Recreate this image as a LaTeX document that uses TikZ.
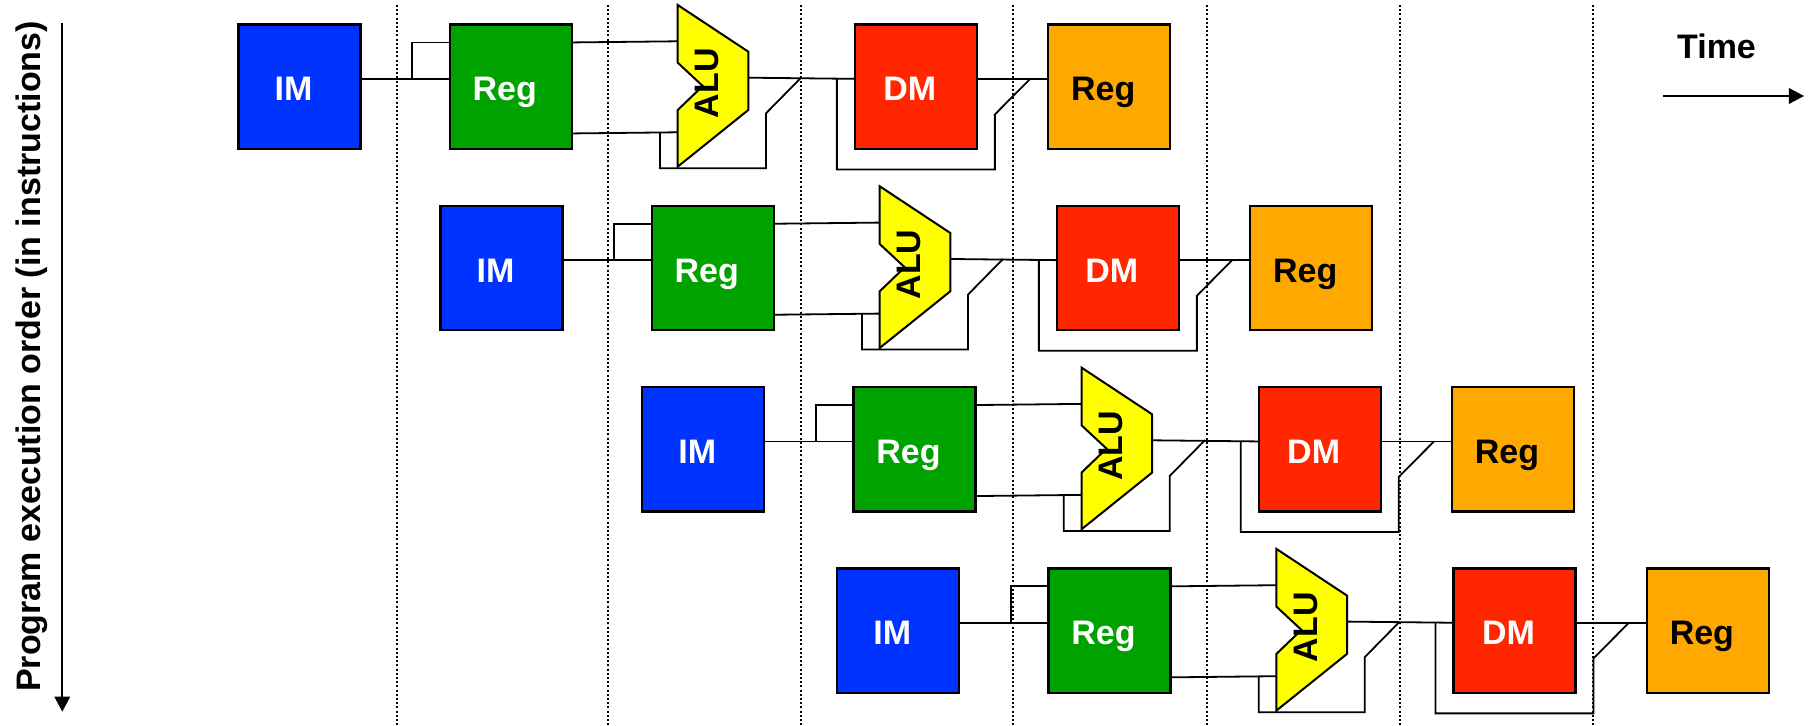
\documentclass[tikz,border=0pt]{standalone}
\usepackage{fontspec}
\setmainfont{Liberation Sans}
\usetikzlibrary{arrows.meta,calc}
\definecolor{imblue}{RGB}{0,51,255}
\definecolor{rggreen}{RGB}{0,162,0}
\definecolor{dmred}{RGB}{255,38,0}
\definecolor{wborange}{RGB}{255,168,0}
\definecolor{aluyellow}{RGB}{255,255,0}
\begin{document}
\begin{tikzpicture}[x=0.5pt,y=-0.5pt,
  box/.style={draw=black,line width=1.15pt,minimum width=61pt,minimum height=62.2pt,inner sep=0pt,outer sep=0pt},
  lbl/.style={font=\fontsize{17}{20}\selectfont\bfseries,inner sep=0pt,anchor=base},
  alutxt/.style={font=\fontsize{17}{20}\selectfont\bfseries,inner sep=0pt,rotate=90,anchor=center,text height=0.72em,text depth=0pt},
  wire/.style={line width=0.9pt},
  dotline/.style={line width=1pt,dash pattern=on 1pt off 1.1pt},
  arr/.style={line width=1pt,-{Triangle[length=7.6pt,width=7.8pt]}},
  alubody/.style={draw=black,line width=1pt,fill=aluyellow,line join=miter}]
\useasboundingbox (0,0) rectangle (1813,726);
% time columns
\foreach \xx in {396.7,607.5,801,1012.5,1206.5,1400,1592.5}
  \draw[dotline] (\xx,5) -- (\xx,726);
% axes
\coordinate (ps) at (62.3,23.3);
\coordinate (pe) at (62.3,711.7);
\draw[arr] (ps) -- (pe);
\node[lbl,rotate=90] (prog) at (40.7,356.5) {Program execution order (in instructions)};
\node[lbl] (time) at (1716.5,58.3) {Time};
\coordinate (ts) at (1663.3,96);
\coordinate (te) at (1804,96);
\draw[arr] (ts) -- (te);
% pipeline rows
\foreach \k/\dx in {0/0,1/202,2/403.8,3/598.7}{
\begin{scope}[shift={(\dx,181.3*\k)}]
  \coordinate (ai\k) at (677.7,41.3);
  \coordinate (bi\k) at (677.7,132.3);
  \coordinate (ao\k) at (748.3,77.7);
  \node[box,fill=imblue] (im\k) at (299.5,86.65) {};
  \node[box,fill=rggreen] (rg\k) at (510.7,86.65) {};
  \node[box,fill=dmred] (dm\k) at (915.85,86.65) {};
  \node[box,fill=wborange] (wb\k) at (1109.15,86.65) {};
  % wires
  \draw[wire] ($(im\k.north east)+(0,54.4)$) -- ($(rg\k.north west)+(0,54.4)$);
  \draw[wire] ($(im\k.north east)+(51.6,54.4)$) |- ($(rg\k.north west)+(0,18)$);
  \draw[wire] ($(rg\k.north east)+(0,18)$) -- (ai\k);
  \draw[wire] ($(rg\k.north east)+(0,109)$) -- (bi\k);
  \draw[wire] ($(bi\k)+(-17.7,0)$) -- ++(0,36) -- ++(106,0) -- ++(0,-55) -- ($(ao\k)+(52.7,0)$);
  \draw[wire] (ao\k) -- ($(dm\k.north west)+(0,54.4)$);
  \draw[wire] ($(dm\k.north west)+(-18,54.4)$) -- ++(0,90.6) -- ++(158,0) -- ++(0,-55) -- ($(wb\k.north west)+(-18,54.4)$);
  \draw[wire] ($(dm\k.north east)+(0,54.4)$) -- ($(wb\k.north west)+(0,54.4)$);
  % ALU
  \draw[alubody] (677.7,5) -- (748.3,51.7) -- (748.3,110) -- (677.7,166.7) -- (677.7,110) -- (702.7,86) -- (677.7,62.7) -- cycle;
  \node[alutxt] (alu\k) at (711.7,83.3) {ALU};
  % labels
  \node[lbl,text=white] (imt\k) at ($(im\k.center)+(-6,14.3)$) {IM};
  \node[lbl,text=white] (rgt\k) at ($(rg\k.center)+(-6,14.3)$) {Reg};
  \node[lbl,text=white] (dmt\k) at ($(dm\k.center)+(-6,14.3)$) {DM};
  \node[lbl,text=black] (wbt\k) at ($(wb\k.center)+(-6,14.3)$) {Reg};
\end{scope}
}
\end{tikzpicture}
\end{document}
